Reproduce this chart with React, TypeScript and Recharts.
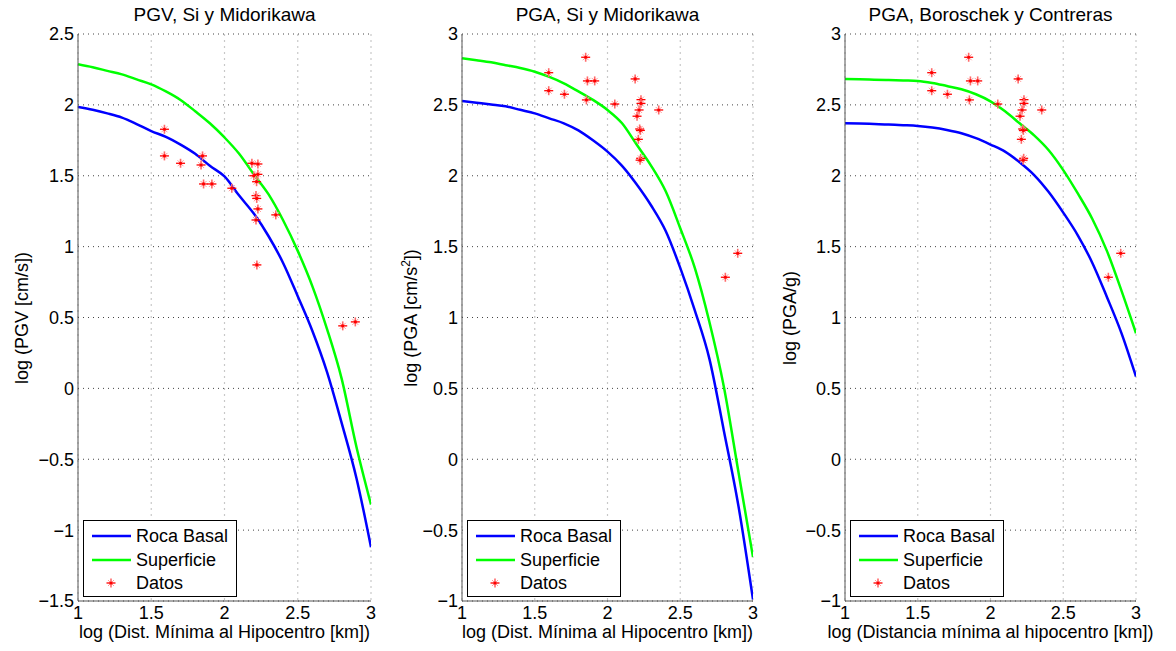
import React from "react";
import { CartesianGrid, ComposedChart, Line, Scatter, XAxis, YAxis } from "recharts";

// log10 of minimum hypocentral distance, grid for the attenuation curves
const distGrid = [1.0, 1.1, 1.2, 1.3, 1.4, 1.5, 1.6, 1.7, 1.8, 1.9, 2.0, 2.1, 2.2, 2.3, 2.4, 2.5, 2.6, 2.7, 2.8, 2.9, 3.0];

// PGV, Si y Midorikawa
const pgvRock = [1.985, 1.965, 1.94, 1.91, 1.865, 1.815, 1.775, 1.72, 1.655, 1.57, 1.495, 1.36, 1.233, 1.075, 0.885, 0.65, 0.405, 0.115, -0.245, -0.63, -1.12];
const pgvSurface = [2.286, 2.265, 2.24, 2.215, 2.18, 2.145, 2.095, 2.035, 1.955, 1.87, 1.77, 1.655, 1.51, 1.37, 1.186, 0.97, 0.72, 0.418, 0.067, -0.41, -0.82];

// PGA, Si y Midorikawa
const pgaSiRock = [2.527, 2.515, 2.503, 2.49, 2.465, 2.44, 2.405, 2.37, 2.32, 2.25, 2.17, 2.07, 1.94, 1.79, 1.61, 1.35, 1.05, 0.71, 0.2, -0.33, -0.99];
const pgaSiSurface = [2.829, 2.815, 2.8, 2.78, 2.76, 2.734, 2.697, 2.652, 2.595, 2.535, 2.464, 2.37, 2.22, 2.07, 1.89, 1.63, 1.35, 0.97, 0.51, -0.09, -0.69];

// PGA, Boroschek y Contreras
const pgaBcRock = [2.37, 2.368, 2.365, 2.362, 2.357, 2.351, 2.34, 2.323, 2.3, 2.265, 2.22, 2.17, 2.095, 2.005, 1.885, 1.74, 1.58, 1.385, 1.145, 0.89, 0.583];
const pgaBcSurface = [2.683, 2.681, 2.678, 2.675, 2.672, 2.669, 2.655, 2.633, 2.61, 2.575, 2.525, 2.455, 2.37, 2.285, 2.18, 2.04, 1.875, 1.695, 1.47, 1.19, 0.889];

// observed records
const pgvObsDist = [1.59, 1.59, 1.70, 1.84, 1.85, 1.857, 1.914, 2.05, 2.187, 2.228, 2.20, 2.228, 2.219, 2.215, 2.22, 2.228, 2.215, 2.35, 2.221, 2.807, 2.893];
const pgvObsValue = [1.828, 1.64, 1.588, 1.576, 1.64, 1.442, 1.442, 1.412, 1.588, 1.583, 1.50, 1.51, 1.458, 1.36, 1.34, 1.266, 1.188, 1.224, 0.871, 0.441, 0.469];
const pgaObsDist = [1.596, 1.596, 1.704, 1.85, 1.862, 1.912, 1.855, 2.05, 2.19, 2.23, 2.23, 2.217, 2.203, 2.221, 2.226, 2.212, 2.228, 2.224, 2.352, 2.81, 2.895];
const pgaObsValue = [2.727, 2.60, 2.575, 2.836, 2.669, 2.669, 2.535, 2.506, 2.683, 2.537, 2.51, 2.464, 2.42, 2.33, 2.32, 2.257, 2.123, 2.11, 2.464, 1.284, 1.453];

const xTicks = [1, 1.5, 2, 2.5, 3];
const pgvTicks = [-1.5, -1, -0.5, 0, 0.5, 1, 1.5, 2, 2.5];
const pgaTicks = [-1, -0.5, 0, 0.5, 1, 1.5, 2, 2.5, 3];

const FONT = "'Liberation Sans', Arial, Helvetica, sans-serif";
const H = 651;
const TOP = 34;
const BOTTOM = 601;

const fmt = (v: number) => String(v).replace("-", "\u2212");

const curveRows = (rock: number[], surf: number[]) => distGrid.map((x, i) => ({ x, rock: rock[i], surf: surf[i] }));
const obsRows = (d: number[], v: number[]) => d.map((x, i) => ({ x, y: v[i] }));

const Star = (props: any) => {
  const { cx, cy } = props;
  if (cx == null || cy == null) return null;
  return (
    <g>
      <line x1={cx - 3} y1={cy - 3} x2={cx + 3} y2={cy + 3} stroke="#ff9a9a" strokeWidth={1} />
      <line x1={cx - 3} y1={cy + 3} x2={cx + 3} y2={cy - 3} stroke="#ff9a9a" strokeWidth={1} />
      <line x1={cx} y1={cy - 4.5} x2={cx} y2={cy + 4.5} stroke="#ff6a6a" strokeWidth={1.6} />
      <line x1={cx - 4.5} y1={cy} x2={cx + 4.5} y2={cy} stroke="#ff0000" strokeWidth={1.3} />
      <circle cx={cx} cy={cy} r={1.6} fill="#ff0000" />
    </g>
  );
};

function LegendBox({ left }: { left: number }) {
  const row = { position: "absolute" as const, left: 52, fontSize: 18, lineHeight: "18px", whiteSpace: "nowrap" as const };
  return (
    <div style={{ position: "absolute", left, top: 520, width: 152, height: 75, border: "1px solid #000", background: "#fff", fontFamily: FONT }}>
      <svg width={152} height={75} style={{ position: "absolute", left: 0, top: 0 }}>
        <line x1={8} x2={47} y1={15} y2={15} stroke="#0000ff" strokeWidth={2.5} />
        <line x1={8} x2={47} y1={39} y2={39} stroke="#00ff00" strokeWidth={2.5} />
        <Star cx={27} cy={62} />
      </svg>
      <div style={{ ...row, top: 6 }}>Roca Basal</div>
      <div style={{ ...row, top: 30 }}>Superficie</div>
      <div style={{ ...row, top: 53 }}>Datos</div>
    </div>
  );
}

type PanelProps = {
  left: number;
  width: number;
  mLeft: number;
  mRight: number;
  yDomain: [number, number];
  yTicks: number[];
  title: string;
  yLabel: React.ReactNode;
  yLabelX: number;
  xLabel: string;
  rock: number[];
  surf: number[];
  obs: { x: number; y: number }[];
};

function Panel(p: PanelProps) {
  const plotLeft = p.mLeft + 50;
  const plotRight = p.width - p.mRight;
  const cx = (plotLeft + plotRight) / 2;
  const rows = curveRows(p.rock, p.surf);
  return (
    <div style={{ position: "absolute", left: p.left, top: 0, width: p.width, height: H, fontFamily: FONT }}>
      <ComposedChart width={p.width} height={H} data={rows} margin={{ top: TOP, right: p.mRight, bottom: 20, left: p.mLeft }}>
        <CartesianGrid horizontal={false} stroke="#c8c8c8" strokeDasharray="2 4" strokeWidth={1.2} />
        <CartesianGrid vertical={false} stroke="#444" strokeDasharray="1 4" />
        <XAxis
          type="number"
          dataKey="x"
          domain={[1, 3]}
          ticks={xTicks}
          height={30}
          tickLine={false}
          tickSize={0}
          tickMargin={5}
          stroke="#555"
          tick={{ fill: "#000", fontSize: 18, fontFamily: FONT }}
          tickFormatter={fmt}
          allowDataOverflow
        />
        <YAxis
          type="number"
          domain={p.yDomain}
          ticks={p.yTicks}
          width={50}
          tickLine={false}
          tickSize={0}
          tickMargin={4}
          stroke="#555"
          tick={{ fill: "#000", fontSize: 18, fontFamily: FONT }}
          tickFormatter={fmt}
          allowDataOverflow
        />
        <Line type="monotone" dataKey="rock" stroke="#0000ff" strokeWidth={2.5} dot={false} isAnimationActive={false} />
        <Line type="monotone" dataKey="surf" stroke="#00ff00" strokeWidth={2.5} dot={false} isAnimationActive={false} />
        <Scatter data={p.obs} dataKey="y" shape={Star} isAnimationActive={false} />
      </ComposedChart>
      <div style={{ position: "absolute", left: cx, top: 4, transform: "translateX(-50%)", fontSize: 19, lineHeight: "22px", whiteSpace: "nowrap" }}>{p.title}</div>
      <div style={{ position: "absolute", left: cx, top: 622, transform: "translateX(-50%)", fontSize: 18, lineHeight: "21px", whiteSpace: "nowrap" }}>{p.xLabel}</div>
      <div
        style={{
          position: "absolute",
          left: p.yLabelX,
          top: (TOP + BOTTOM) / 2,
          transform: "translate(-50%, -50%) rotate(-90deg)",
          fontSize: 18,
          lineHeight: "21px",
          whiteSpace: "nowrap",
        }}
      >
        {p.yLabel}
      </div>
      <LegendBox left={plotLeft + 5} />
    </div>
  );
}

export default function App() {
  const pgvObs = obsRows(pgvObsDist, pgvObsValue);
  const pgaObs = obsRows(pgaObsDist, pgaObsValue);
  return (
    <div style={{ position: "absolute", left: 0, top: 0, width: 1176, height: H, background: "#fff", overflow: "hidden" }}>
      <Panel
        left={0}
        width={400}
        mLeft={28}
        mRight={29}
        yDomain={[-1.5, 2.5]}
        yTicks={pgvTicks}
        title="PGV, Si y Midorikawa"
        yLabel="log (PGV [cm/s])"
        yLabelX={22}
        xLabel="log (Dist. Mínima al Hipocentro [km])"
        rock={pgvRock}
        surf={pgvSurface}
        obs={pgvObs}
      />
      <Panel
        left={390}
        width={390}
        mLeft={22}
        mRight={27}
        yDomain={[-1, 3]}
        yTicks={pgaTicks}
        title="PGA, Si y Midorikawa"
        yLabel={<span>log (PGA [cm/s<sup style={{ fontSize: 12 }}>2</sup>])</span>}
        yLabelX={19}
        xLabel="log (Dist. Mínima al Hipocentro [km])"
        rock={pgaSiRock}
        surf={pgaSiSurface}
        obs={pgaObs}
      />
      <Panel
        left={780}
        width={396}
        mLeft={15}
        mRight={40}
        yDomain={[-1, 3]}
        yTicks={pgaTicks}
        title="PGA, Boroschek y Contreras"
        yLabel="log (PGA/g)"
        yLabelX={10}
        xLabel="log (Distancia mínima al hipocentro [km])"
        rock={pgaBcRock}
        surf={pgaBcSurface}
        obs={pgaObs}
      />
    </div>
  );
}
